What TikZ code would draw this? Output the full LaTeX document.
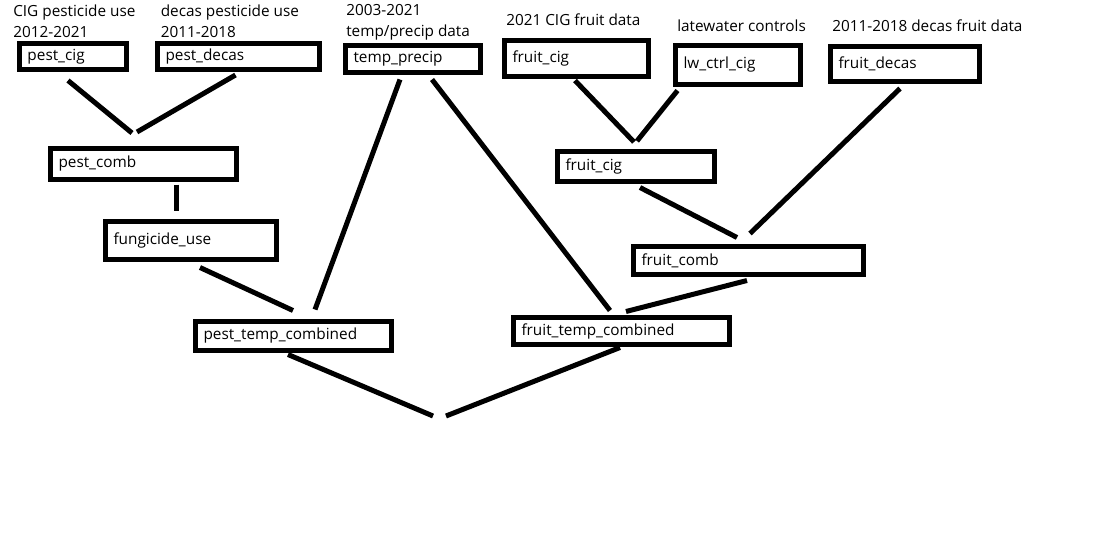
\documentclass[tikz,border=0pt]{standalone}
\usepackage{fontspec}
\setmainfont{Open Sans}
\usepackage{tikz}
\usetikzlibrary{positioning}

\begin{document}
\begin{tikzpicture}[
    x=0.75pt, y=-0.75pt,
    box/.style={
        draw=black,
        line width=3.75pt,
        inner xsep=6pt,
        inner ysep=1pt,
        align=left,
        font=\fontsize{11.5}{14}\selectfont
    },
    note/.style={inner sep=0pt, align=left, anchor=north west, font=\fontsize{11.5}{15.75}\selectfont},
    link/.style={draw=black, line width=3.75pt}
]

\useasboundingbox (0,0) rectangle (1111,537);

% source tables
\node[box, text width=68.25pt, minimum height=19.5pt] (pest_cig) at (73,56.5) {pest\_cig};
\node[box, text width=109.5pt, minimum height=19.5pt] (pest_decas) at (238.5,56.5) {pest\_decas};
\node[box, text width=89.25pt, minimum height=20.25pt] (temp_precip) at (413,59) {temp\_precip};
\node[box, text width=96pt, minimum height=27pt] (fruit_cig_raw) at (576.5,58.5) {fruit\_cig};
\node[box, text width=81.75pt, minimum height=29.25pt] (lw_ctrl_cig) at (738,65) {lw\_ctrl\_cig};
\node[box, text width=99.75pt, minimum height=26.25pt] (fruit_decas) at (905,64) {fruit\_decas};

% what each source is
\node[note] (lab_pest_cig) at (13,4.5) {CIG pesticide use\\2012-2021};
\node[note] (lab_pest_decas) at (160.5,4.5) {decas pesticide use\\2011-2018};
\node[note] (lab_temp_precip) at (346,4.5) {2003-2021\\temp/precip data};
\node[note] (lab_fruit_cig) at (506,13.5) {2021 CIG fruit data};
\node[note] (lab_lw_ctrl) at (677,19.5) {latewater controls};
\node[note] (lab_fruit_decas) at (832,19.5) {2011-2018 decas fruit data};

% combined tables
\node[box, text width=127.5pt, minimum height=23.25pt] (pest_comb) at (143.5,164) {pest\_comb};
\node[box, text width=116.25pt, minimum height=28.5pt] (fungicide_use) at (191,240.5) {fungicide\_use};
\node[box, text width=135pt, minimum height=21.75pt] (pest_temp_combined) at (293.5,336) {pest\_temp\_combined};
\node[box, text width=105.75pt, minimum height=22.5pt] (fruit_cig) at (636,166.5) {fruit\_cig};
\node[box, text width=160.5pt, minimum height=21pt] (fruit_comb) at (748.5,260.5) {fruit\_comb};
\node[box, text width=150pt, minimum height=20.25pt] (fruit_temp_combined) at (621.5,331) {fruit\_temp\_combined};

\coordinate (pest_join) at (134,133);
\coordinate (fruit_join) at (635.5,141.5);
\coordinate (final_join) at (439.5,416);

% pesticide side
\draw[link] ([shift={(-5,8.5)}]pest_cig.south) -- ([shift={(-2,0)}]pest_join);
\draw[link] ([shift={(-3,3)}]pest_decas.south) -- ([shift={(3,-1)}]pest_join);
\draw[link] ([shift={(32.5,2.5)}]pest_comb.south) -- ([shift={(-15,-8.5)}]fungicide_use.north);
\draw[link] ([shift={(9,5.5)}]fungicide_use.south) -- ([shift={(-0.5,-8.5)}]pest_temp_combined.north);

% temp/precip goes both ways
\draw[link] ([shift={(-13,4.5)}]temp_precip.south) -- ([shift={(21.5,-9.5)}]pest_temp_combined.north);
\draw[link] ([shift={(19,4.5)}]temp_precip.south) -- ([shift={(-11.5,-4.5)}]fruit_temp_combined.north);

% fruit side
\draw[link] ([shift={(-1.5,1.5)}]fruit_cig_raw.south) -- ([shift={(-1.5,0.5)}]fruit_join);
\draw[link] ([shift={(4.5,3.5)}]lw_ctrl_cig.south west) -- ([shift={(1.5,-0.5)}]fruit_join);
\draw[link] ([shift={(4,3.5)}]fruit_cig.south) -- ([shift={(-11.5,-6.5)}]fruit_comb.north);
\draw[link] ([shift={(-5,4.5)}]fruit_decas.south) -- ([shift={(1.5,-10.5)}]fruit_comb.north);
\draw[link] ([shift={(-1.5,3.5)}]fruit_comb.south) -- ([shift={(4.5,-3.5)}]fruit_temp_combined.north);

% last step
\draw[link] ([shift={(-5.5,1.5)}]pest_temp_combined.south) -- ([shift={(-6.5,0)}]final_join);
\draw[link] ([shift={(-1.5,0.5)}]fruit_temp_combined.south) -- ([shift={(6.5,0)}]final_join);

\end{tikzpicture}
\end{document}
